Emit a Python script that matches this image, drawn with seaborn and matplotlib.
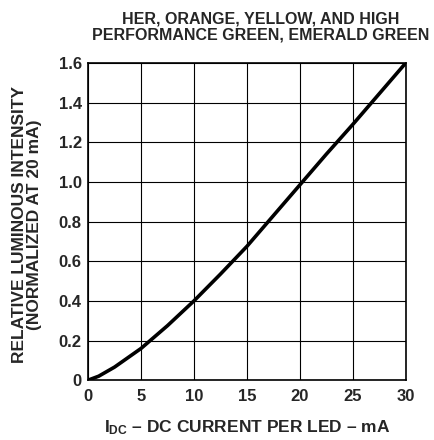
import matplotlib
matplotlib.use("Agg")
import matplotlib.pyplot as plt
import seaborn as sns
import pandas as pd

current_ma = [0, 1, 2.5, 5, 7.5, 10, 12.5, 15, 17.5, 20, 22.5, 25, 27.5, 30]
rel_intensity = [0, 0.02, 0.066, 0.16, 0.275, 0.40, 0.535, 0.675, 0.83, 0.985, 1.14, 1.29, 1.445, 1.6]

x_ticks = [0, 5, 10, 15, 20, 25, 30]
y_ticks = [0, 0.2, 0.4, 0.6, 0.8, 1.0, 1.2, 1.4, 1.6]
y_tick_labels = ["0", "0.2", "0.4", "0.6", "0.8", "1.0", "1.2", "1.4", "1.6"]

sns.set_style("white")
plt.rcParams["font.family"] = ["Liberation Sans", "DejaVu Sans"]
plt.rcParams["font.sans-serif"] = ["Liberation Sans", "DejaVu Sans"]
plt.rcParams["mathtext.fontset"] = "custom"
plt.rcParams["mathtext.bf"] = "sans:bold"

df = pd.DataFrame({"current": current_ma, "intensity": rel_intensity})

fig = plt.figure(figsize=(4.34, 4.40), dpi=100)
ax = fig.add_axes([0.203, 0.136, 0.732, 0.721])
sns.lineplot(data=df, x="current", y="intensity", color="black", linewidth=2.6, ax=ax)

ax.set_xlim(0, 30)
ax.set_ylim(0, 1.6)
ax.set_xticks(x_ticks)
ax.set_yticks(y_ticks)
ax.set_yticklabels(y_tick_labels)
ax.grid(True, color="black", linewidth=0.8)
for s in ax.spines.values():
    s.set_color("black")
    s.set_linewidth(1.2)
ax.tick_params(axis="both", direction="out", length=2.5, width=1, color="black")
ax.tick_params(axis="x", pad=4, labelsize=12)
ax.tick_params(axis="y", pad=2, labelsize=12)
for lbl in ax.get_xticklabels() + ax.get_yticklabels():
    lbl.set_fontweight("bold")

ax.set_xlabel(r"I$_{\mathbf{DC}}$ – DC CURRENT PER LED – mA", fontsize=12.5, fontweight="bold", labelpad=10)
ax.set_ylabel("")
fig.text(0.063, 0.49, "RELATIVE LUMINOUS INTENSITY\n(NORMALIZED AT 20 mA)", rotation=90,
         ha="center", va="center", multialignment="center", fontsize=12.5, fontweight="bold",
         linespacing=1.0)
ax.set_title("HER, ORANGE, YELLOW, AND HIGH\nPERFORMANCE GREEN, EMERALD GREEN", fontsize=11.5,
             fontweight="bold", pad=17, linespacing=1.1, x=0.544)

plt.savefig("out.png", dpi=100)
